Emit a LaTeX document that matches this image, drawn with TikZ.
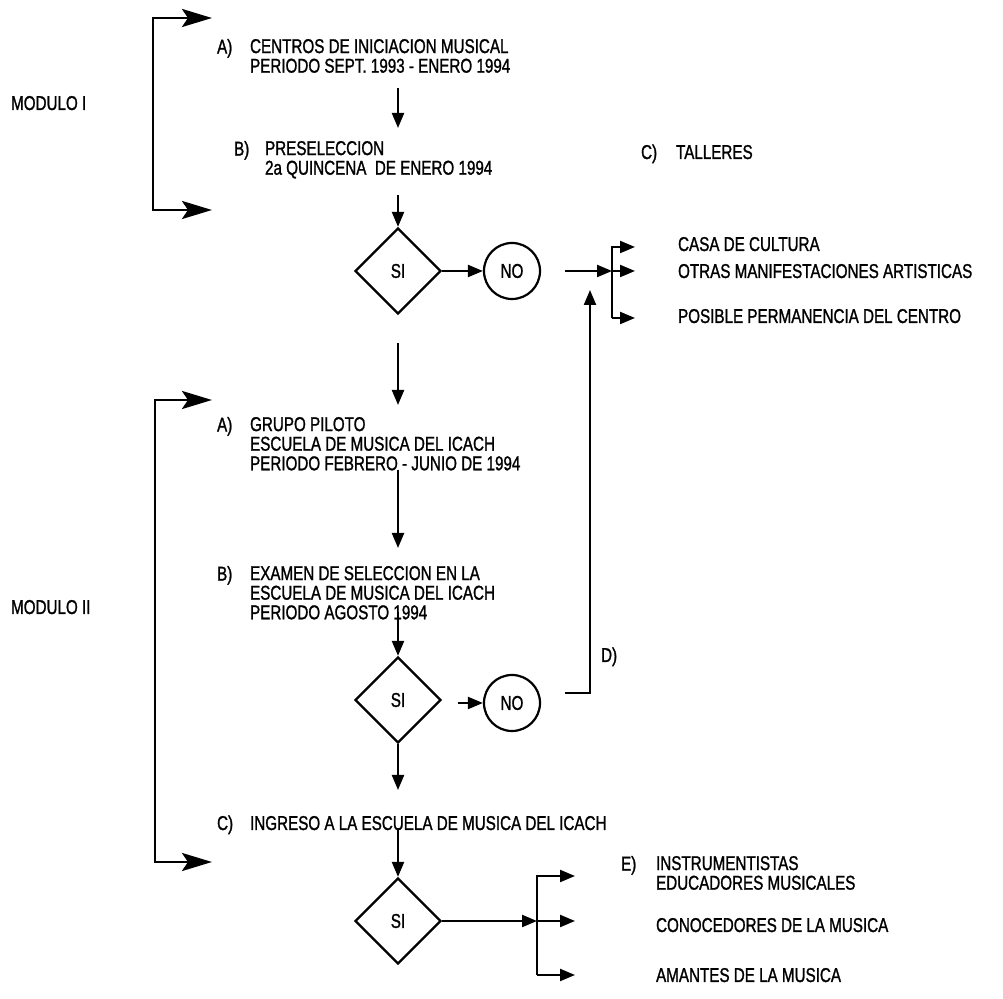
\documentclass[tikz,border=0pt]{standalone}
\usepackage{fontspec}
\setmainfont{Liberation Sans}[FakeStretch=0.76, FakeBold=1.2]
\usetikzlibrary{positioning, arrows.meta, shapes.geometric}

\begin{document}
\begin{tikzpicture}[x=0.5pt, y=-0.5pt, line width=1.1pt,
    >={Triangle[length=7.5pt, width=6pt]},
    txt/.style={anchor=base west, inner sep=0pt, align=left, font=\fontsize{10}{9.8}\selectfont},
    block/.style={txt, anchor=north west},
    decision/.style={diamond, draw, aspect=1, minimum width=43pt, minimum height=43pt, inner sep=0pt, font=\fontsize{10}{9.8}\selectfont},
    nobox/.style={circle, draw, minimum size=28pt, inner sep=0pt, font=\fontsize{10}{9.8}\selectfont},
    side/.style={line width=1.4pt, {Stealth[length=15pt, width=9pt, inset=3pt]}-{Stealth[length=15pt, width=9pt, inset=3pt]}}]
    \useasboundingbox (0,0) rectangle (1003,999);

    % Modulo I
    \node[txt] (modI) at (10,110) {MODULO I};
    \node[block] (centros) at (249,38) {CENTROS DE INICIACION MUSICAL\\PERIODO SEPT. 1993 - ENERO 1994};
    \node[block] (la) at (216,38) {A)};
    \node[block] (presel) at (264,140) {PRESELECCION\\2a QUINCENA~ DE ENERO 1994};
    \node[block] (lb) at (233,140) {B)};
    \node[txt] (lc) at (640,159) {C)};
    \node[txt] (talleres) at (675,159) {TALLERES};

    \coordinate (b1a) at (212,18);
    \coordinate (b1b) at (153,18);
    \coordinate (b1c) at (153,210);
    \coordinate (b1d) at (212,210);
    \draw[side] (b1a) -- (b1b) -- (b1c) -- (b1d);

    \coordinate (f1a) at (398,88);
    \coordinate (f1b) at (398,128);
    \coordinate (f2a) at (398,195);
    \draw[->] (f1a) -- (f1b);

    % primera decision
    \node[decision] (si1) at (398,271) {SI};
    \node[nobox] (no1) at (512,271) {NO};
    \draw[->] (f2a) -- (si1.north);
    \draw[->] (si1.east) -- (no1.west);

    \coordinate (n1o) at (565,271);
    \coordinate (r1t) at (612,247);
    \coordinate (r1m) at (612,271);
    \coordinate (r1b) at (612,318);
    \node[txt] (casa) at (677,251) {CASA DE CULTURA};
    \node[txt] (otras) at (677,278) {OTRAS MANIFESTACIONES ARTISTICAS};
    \node[txt] (posible) at (677,323) {POSIBLE PERMANENCIA DEL CENTRO};
    \draw[->] (n1o) -- (r1m);
    \draw[->] (r1b) -- (r1t) -- ++(23,0);
    \draw[->] (r1m) -- ++(23,0);
    \draw[->] (r1b) -- ++(23,0);

    % Modulo II
    \node[txt] (modII) at (10,614) {MODULO II};
    \coordinate (b2a) at (212,400);
    \coordinate (b2b) at (155,400);
    \coordinate (b2c) at (155,862);
    \coordinate (b2d) at (212,862);
    \draw[side] (b2a) -- (b2b) -- (b2c) -- (b2d);

    \coordinate (f3a) at (398,343);
    \coordinate (f3b) at (398,405);
    \draw[->] (f3a) -- (f3b);

    \node[block] (piloto) at (249,416) {GRUPO PILOTO\\ESCUELA DE MUSICA DEL ICACH\\PERIODO FEBRERO - JUNIO DE 1994};
    \node[block] (la2) at (216,416) {A)};
    \coordinate (f4a) at (398,470);
    \coordinate (f4b) at (398,548);
    \draw[->] (f4a) -- (f4b);

    \node[block] (examen) at (249,565) {EXAMEN DE SELECCION EN LA\\ESCUELA DE MUSICA DEL ICACH\\PERIODO AGOSTO 1994};
    \node[block] (lb2) at (216,565) {B)};

    % segunda decision
    \node[decision] (si2) at (398,700) {SI};
    \node[nobox] (no2) at (512,703) {NO};
    \coordinate (f5a) at (398,612);
    \draw[->] (f5a) -- (si2.north);
    \coordinate (s2o) at (458,703);
    \draw[->] (s2o) -- (no2.west);

    \coordinate (n2o) at (565,693);
    \coordinate (dtip) at (590,290);
    \draw[->] (n2o) -| (dtip);
    \node[txt] (ld) at (600,662) {D)};

    \coordinate (f6b) at (398,790);
    \draw[->] (si2.south) -- (f6b);
    \node[txt] (lc2) at (216,830) {C)};
    \node[txt] (ingreso) at (249,830) {INGRESO A LA ESCUELA DE MUSICA DEL ICACH};

    % tercera decision
    \node[decision] (si3) at (398,921) {SI};
    \coordinate (f7a) at (398,828);
    \draw[->] (f7a) -- (si3.north);

    \coordinate (r3t) at (537,876);
    \coordinate (r3m) at (537,921);
    \coordinate (r3b) at (537,975);
    \draw[->] (si3.east) -- (r3m);
    \draw[->] (r3b) -- (r3t) -- ++(38,0);
    \draw[->] (r3m) -- ++(38,0);
    \draw[->] (r3b) -- ++(38,0);
    \node[block] (le) at (620,855) {E)};
    \node[block] (instr) at (655,855) {INSTRUMENTISTAS\\EDUCADORES MUSICALES};
    \node[txt] (conoc) at (655,932) {CONOCEDORES DE LA MUSICA};
    \node[txt] (amantes) at (655,982) {AMANTES DE LA MUSICA};
\end{tikzpicture}
\end{document}
